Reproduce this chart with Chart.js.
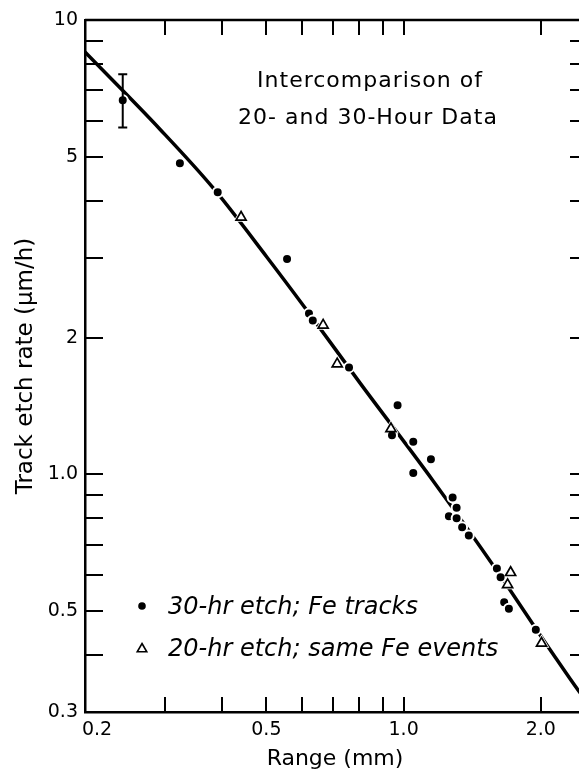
<!DOCTYPE html>
<html>
<head>
<meta charset="utf-8">
<title>Intercomparison of 20- and 30-Hour Data</title>
<script src="https://cdn.jsdelivr.net/npm/chart.js@4.4.1/dist/chart.umd.min.js"></script>
<style>
  html, body { margin: 0; padding: 0; background: #fff; overflow: hidden; }
  #wrap { width: 600px; height: 770px; }
</style>
</head>
<body>
<div id="wrap"><canvas id="etchChart" width="600" height="770"></canvas></div>
<script>
// 30-hr etch, Fe tracks (filled dots)
const fe30Range = [0.242, 0.323, 0.391, 0.555, 0.620, 0.632, 0.759, 0.970, 0.943, 1.050, 1.148, 1.050,
  1.281, 1.307, 1.257, 1.307, 1.344, 1.390, 1.602, 1.632, 1.662, 1.702, 1.950];
const fe30Rate = [6.66, 4.84, 4.18, 2.98, 2.26, 2.18, 1.72, 1.42, 1.22, 1.18, 1.08, 1.007,
  0.889, 0.845, 0.809, 0.801, 0.765, 0.734, 0.621, 0.594, 0.523, 0.506, 0.455];

// 20-hr etch, same Fe events (open triangles)
const fe20Range = [0.440, 0.666, 0.715, 0.938, 1.717, 1.691, 2.007];
const fe20Rate = [3.68, 2.13, 1.75, 1.26, 0.608, 0.572, 0.425];

// error bar on the first 30-hr point
const errRange = [0.242];
const errHigh = [7.60];
const errLow = [5.80];

// smooth fitted curve
const fitRange = [0.200, 0.292, 0.382, 0.501, 0.607, 0.802, 1.159, 1.602, 2.125, 2.42, 2.50];
const fitRate = [8.50, 5.75, 4.27, 3.01, 2.33, 1.59, 0.970, 0.614, 0.403, 0.334, 0.320];

// axis ticks and labels
const xTickVals = [0.3, 0.4, 0.5, 0.6, 0.7, 0.8, 0.9, 1.0, 2.0];
const xLabelVals = [0.2, 0.5, 1.0, 2.0];
const xLabels = ['    0.2', '0.5', '1.0', '2.0'];
const yTickVals = [10, 9, 8, 7, 6, 5, 4, 3, 2, 1.0, 0.9, 0.8, 0.7, 0.6, 0.5, 0.4, 0.3];
const yLabelVals = [10, 5, 2, 1.0, 0.5, 0.3];
const yLabels = ['10', '5', '2', '1.0', '0.5', '0.3'];

const FONT = '"DejaVu Sans", sans-serif';

const toPoints = (xs, ys) => xs.map((x, i) => ({ x, y: ys[i] }));

const labelFor = (vals, labels, v) => {
  const i = vals.findIndex(t => Math.abs(t - v) < 1e-6);
  return i >= 0 ? labels[i] : '';
};

// tick marks inside the frame, plus top/right frame lines
const frameTicks = {
  id: 'frameTicks',
  afterDraw(chart) {
    const { ctx, chartArea: { left, right, top, bottom }, scales: { x, y } } = chart;
    ctx.save();
    ctx.strokeStyle = '#000';
    ctx.lineWidth = 2.5;
    ctx.beginPath();
    ctx.moveTo(left, top);
    ctx.lineTo(right, top);
    ctx.lineTo(right, bottom);
    ctx.stroke();

    ctx.lineWidth = 2;
    ctx.beginPath();
    xTickVals.forEach(v => {
      const px = Math.round(x.getPixelForValue(v));
      ctx.moveTo(px, bottom);
      ctx.lineTo(px, bottom - 15);
      ctx.moveTo(px, top);
      ctx.lineTo(px, top + 15);
    });
    yTickVals.forEach(v => {
      const py = Math.round(y.getPixelForValue(v));
      ctx.moveTo(left, py);
      ctx.lineTo(left + 18, py);
      ctx.moveTo(right, py);
      ctx.lineTo(right - 15, py);
    });
    ctx.stroke();
    ctx.restore();
  }
};

const errorBars = {
  id: 'errorBars',
  afterDatasetsDraw(chart) {
    const { ctx, scales: { x, y } } = chart;
    ctx.save();
    ctx.strokeStyle = '#000';
    ctx.lineWidth = 2;
    errRange.forEach((r, i) => {
      const px = x.getPixelForValue(r);
      const t = y.getPixelForValue(errHigh[i]);
      const b = y.getPixelForValue(errLow[i]);
      ctx.beginPath();
      ctx.moveTo(px, t); ctx.lineTo(px, b);
      ctx.moveTo(px - 4.5, t); ctx.lineTo(px + 4.5, t);
      ctx.moveTo(px - 4.5, b); ctx.lineTo(px + 4.5, b);
      ctx.stroke();
    });
    ctx.restore();
  }
};

// heading and key written inside the plot
const notes = {
  id: 'notes',
  afterDraw(chart) {
    const { ctx } = chart;
    ctx.save();
    ctx.fillStyle = '#000';
    ctx.textAlign = 'center';
    ctx.textBaseline = 'alphabetic';
    ctx.font = '22px ' + FONT;
    ctx.letterSpacing = '1px';
    ctx.fillText('Intercomparison of', 370, 87);
    ctx.fillText('20- and 30-Hour Data', 368, 124);
    ctx.letterSpacing = '0px';

    ctx.font = 'italic 24px ' + FONT;
    ctx.textAlign = 'left';
    ctx.textBaseline = 'middle';
    ctx.fillText('30-hr etch; Fe tracks', 168, 608);
    ctx.fillText('20-hr etch; same Fe events', 168, 650);

    ctx.strokeStyle = '#000';
    ctx.fillStyle = '#000';
    Chart.helpers.drawPoint(ctx, { pointStyle: 'circle', radius: 3.8, borderWidth: 0, rotation: 0 }, 142, 606);
    ctx.fillStyle = '#fff';
    ctx.lineWidth = 1.6;
    Chart.helpers.drawPoint(ctx, { pointStyle: 'triangle', radius: 5.5, borderWidth: 1.6, rotation: 0 }, 142, 649);
    ctx.restore();
  }
};

new Chart(document.getElementById('etchChart'), {
  type: 'scatter',
  data: {
    datasets: [
      {
        label: '30-hr etch; Fe tracks',
        data: toPoints(fe30Range, fe30Rate),
        pointStyle: 'circle',
        pointRadius: 5,
        pointBackgroundColor: '#000',
        pointBorderColor: '#fff',
        pointBorderWidth: 2,
        order: 1
      },
      {
        label: '20-hr etch; same Fe events',
        data: toPoints(fe20Range, fe20Rate),
        pointStyle: 'triangle',
        pointRadius: 5.8,
        pointBackgroundColor: '#fff',
        pointBorderColor: '#000',
        pointBorderWidth: 1.7,
        order: 0
      },
      {
        label: 'gap',
        data: toPoints(fe20Range, fe20Rate),
        pointStyle: 'triangle',
        pointRadius: 9,
        pointBackgroundColor: '#fff',
        pointBorderWidth: 0,
        order: 2
      },
      {
        label: 'fit',
        data: toPoints(fitRange, fitRate),
        showLine: true,
        pointRadius: 0,
        borderColor: '#000',
        borderWidth: 3.5,
        cubicInterpolationMode: 'monotone',
        order: 3
      }
    ]
  },
  options: {
    responsive: false,
    animation: false,
    events: [],
    layout: { padding: { top: 20, right: 15, left: 0, bottom: 0 } },
    plugins: {
      legend: { display: false },
      tooltip: { enabled: false }
    },
    scales: {
      x: {
        type: 'logarithmic',
        position: 'bottom',
        min: 0.2,
        max: 2.5,
        afterFit: s => { s.height = 58; },
        afterBuildTicks: s => { s.ticks = xLabelVals.map(v => ({ value: v })); },
        grid: { display: false, drawTicks: false },
        border: { display: true, color: '#000', width: 2.5 },
        ticks: {
          autoSkip: false,
          maxRotation: 0,
          minRotation: 0,
          padding: 7,
          color: '#000',
          font: { family: FONT, size: 19 },
          callback: v => labelFor(xLabelVals, xLabels, v)
        },
        title: {
          display: true,
          text: 'Range (mm)',
          color: '#000',
          font: { family: FONT, size: 22, lineHeight: 1 },
          padding: { top: 0, bottom: 0 }
        }
      },
      y: {
        type: 'logarithmic',
        position: 'left',
        min: 0.3,
        max: 10,
        afterFit: s => { s.width = 85; },
        afterBuildTicks: s => { s.ticks = yLabelVals.map(v => ({ value: v })); },
        grid: { display: false, drawTicks: false },
        border: { display: true, color: '#000', width: 2.5 },
        ticks: {
          autoSkip: false,
          padding: 7,
          color: '#000',
          font: { family: FONT, size: 19 },
          callback: v => labelFor(yLabelVals, yLabels, v)
        },
        title: {
          display: true,
          text: 'Track etch rate (\u03bcm/h)',
          color: '#000',
          font: { family: FONT, size: 23, lineHeight: 1.2 },
          padding: { top: 12, bottom: 0 }
        }
      }
    }
  },
  plugins: [frameTicks, errorBars, notes]
});
</script>
</body>
</html>
